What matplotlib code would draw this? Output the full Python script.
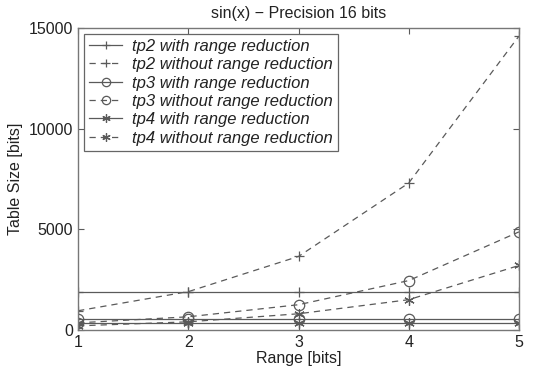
import matplotlib
matplotlib.use("Agg")
import matplotlib.pyplot as plt

plt.rcParams['font.family'] = ['Liberation Sans', 'DejaVu Sans']

ranges = [1, 2, 3, 4, 5]
tp2_with = [1900, 1900, 1900, 1900, 1900]
tp2_without = [950, 1900, 3650, 7300, 14600]
tp3_with = [550, 550, 550, 550, 550]
tp3_without = [350, 650, 1250, 2450, 4870]
tp4_with = [350, 350, 350, 350, 350]
tp4_without = [200, 400, 800, 1500, 3200]

labels = ["tp2 with range reduction", "tp2 without range reduction",
          "tp3 with range reduction", "tp3 without range reduction",
          "tp4 with range reduction", "tp4 without range reduction"]
series = [tp2_with, tp2_without, tp3_with, tp3_without, tp4_with, tp4_without]
markers = ['+', '+', 'o', 'o', (6, 2, 0), (6, 2, 0)]
styles = ['-', '--', '-', '--', '-', '--']

line_col = '#5a5a5a'
text_col = '#222222'

fig = plt.figure(figsize=(5.35, 3.74), dpi=100)
ax = fig.add_axes([0.146, 0.118, 0.824, 0.807])

for vals, lab, m, ls in zip(series, labels, markers, styles):
    ax.plot(ranges, vals, linestyle=ls, marker=m, color=line_col, lw=0.9,
            markersize=7.5, markerfacecolor='none', markeredgecolor=line_col,
            markeredgewidth=0.9, dashes=(5, 4) if ls == '--' else (None, None),
            label=lab)

ax.set_xlim(1, 5)
ax.set_ylim(0, 15000)
ax.set_xticks([1, 2, 3, 4, 5])
ax.set_yticks([0, 5000, 10000, 15000])
ax.tick_params(direction='in', top=True, right=True, length=4, width=0.8,
               colors=line_col, labelcolor=text_col, labelsize=11.5)
for s in ax.spines.values():
    s.set_color('#777777')
    s.set_linewidth(1.0)

ax.set_title("sin(x) \u2212 Precision 16 bits", fontsize=11.5, color=text_col, pad=7)
ax.set_xlabel("Range [bits]", fontsize=11.5, color=text_col, labelpad=1)
ax.set_ylabel("Table Size [bits]", fontsize=11.5, color=text_col, labelpad=4)

leg = ax.legend(loc='upper left', prop={'style': 'italic', 'size': 12},
                fancybox=False, framealpha=1, edgecolor='#666666',
                handlelength=2.0, borderaxespad=0.35, labelspacing=0.2,
                borderpad=0.3, handletextpad=0.6, markerscale=0.8)
leg.get_frame().set_linewidth(0.9)
for t in leg.get_texts():
    t.set_color(text_col)

fig.savefig("out.png", dpi=100)
